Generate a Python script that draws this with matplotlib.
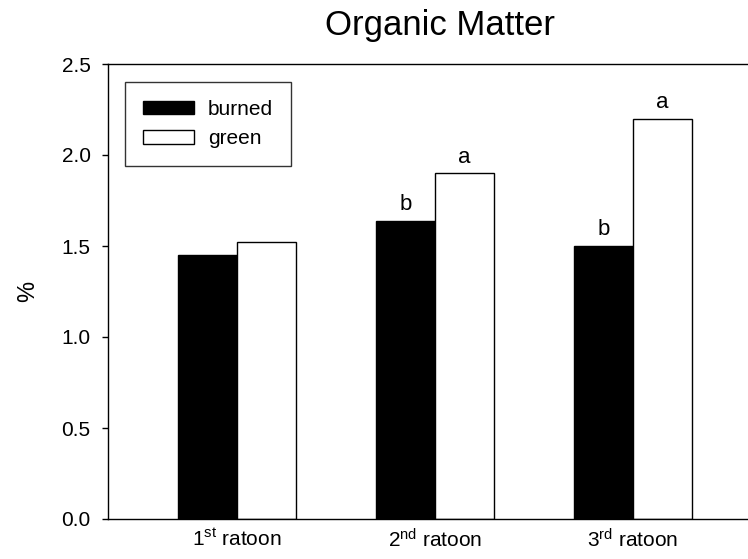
import matplotlib
matplotlib.use("Agg")
import matplotlib.pyplot as plt
import numpy as np

plt.rcParams['font.family'] = ['Liberation Sans', 'DejaVu Sans']
plt.rcParams['mathtext.fontset'] = 'custom'
plt.rcParams['mathtext.rm'] = 'Liberation Sans'
plt.rcParams['mathtext.it'] = 'Liberation Sans'

categories = ["1$^{\\mathrm{st}}$ ratoon", "2$^{\\mathrm{nd}}$ ratoon", "3$^{\\mathrm{rd}}$ ratoon"]
burned = [1.45, 1.64, 1.50]
green = [1.52, 1.90, 2.20]
burned_letters = ["", "b", "b"]
green_letters = ["", "a", "a"]

W, H = 748, 559
L, R, T, B = 108, 748, 64, 519
fig = plt.figure(figsize=(W/100, H/100), dpi=100)
ax = fig.add_axes([L/W, 1-B/H, (R-L)/W, (B-T)/H])

x = np.arange(len(categories))
w = 0.30
ax.bar(x - w/2, burned, w, color='black', edgecolor='black', linewidth=1, label='burned')
ax.bar(x + w/2, green, w, color='white', edgecolor='black', linewidth=1, label='green')

for xi, v, t in zip(x - w/2, burned, burned_letters):
    if t:
        ax.annotate(t, (xi, v), xytext=(0, 4), textcoords='offset points', ha='center', va='bottom', fontsize=16)
for xi, v, t in zip(x + w/2, green, green_letters):
    if t:
        ax.annotate(t, (xi, v), xytext=(0, 4), textcoords='offset points', ha='center', va='bottom', fontsize=16)

ax.set_xlim(-0.652, 2.581)
ax.set_ylim(0, 2.5)
ax.set_yticks([0.0, 0.5, 1.0, 1.5, 2.0, 2.5])
ax.set_yticklabels(["0.0", "0.5", "1.0", "1.5", "2.0", "2.5"])
ax.set_xticks(x)
ax.set_xticklabels(categories)
ax.tick_params(axis='y', direction='out', length=4.5, width=1, labelsize=15, pad=8)
ax.tick_params(axis='x', length=0, labelsize=15, pad=7)
ax.spines['right'].set_visible(False)
for s in ['left', 'top', 'bottom']:
    ax.spines[s].set_linewidth(1)
ax.set_ylabel('%', fontsize=17, labelpad=16)

fig.text(440/W, 1-35/H, 'Organic Matter', ha='center', va='baseline', fontsize=25)

leg = ax.legend(loc='upper left', bbox_to_anchor=((125-L)/(R-L), (B-82)/(B-T)), fontsize=15,
                frameon=True, fancybox=False, edgecolor='black', borderpad=0.85,
                handlelength=2.45, handleheight=0.63, handletextpad=0.67, labelspacing=0.5,
                borderaxespad=0)
leg.get_frame().set_linewidth(1)

fig.savefig('out.png', dpi=100)
